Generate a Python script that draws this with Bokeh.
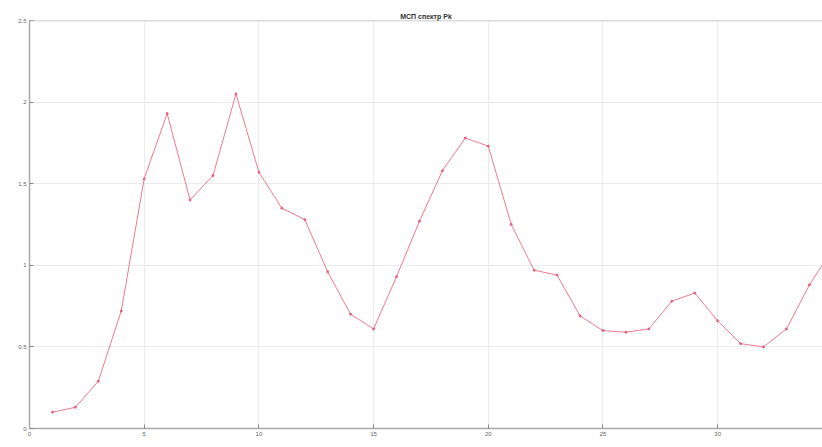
from bokeh.plotting import figure
from bokeh.models import Range1d, FixedTicker, Span
from bokeh.embed import file_html
from bokeh.resources import INLINE

title_text = "МСП спектр Pk"
x_vals = list(range(1, 36))
y_vals = [0.10, 0.13, 0.29, 0.72, 1.53, 1.93, 1.40, 1.55, 2.05, 1.57,
          1.35, 1.28, 0.96, 0.70, 0.61, 0.93, 1.27, 1.58, 1.78, 1.73,
          1.25, 0.97, 0.94, 0.69, 0.60, 0.59, 0.61, 0.78, 0.83, 0.66,
          0.52, 0.50, 0.61, 0.88, 1.10]
x_ticks = [0, 5, 10, 15, 20, 25, 30]
y_ticks = [0, 0.5, 1, 1.5, 2, 2.5]

p = figure(width=822, height=447, output_backend="svg", toolbar_location=None,
           x_range=Range1d(0, 34.57), y_range=Range1d(0, 2.5),
           min_border_left=29, min_border_right=0, min_border_bottom=19, min_border_top=20)
p.title.text = title_text
p.title.align = "center"
p.title.text_font_size = "7px"
p.title.text_font = "Liberation Sans"
p.title.text_color = "#333333"
p.title.offset = 0
p.title.standoff = 2

p.outline_line_color = None
p.background_fill_color = "white"
p.border_fill_color = "white"

for ax in (p.xaxis[0], p.yaxis[0]):
    ax.axis_line_color = "#a8a8a8"
    ax.axis_line_width = 1.5
    ax.major_tick_line_color = "#888888"
    ax.major_tick_in = 4
    ax.major_tick_out = 0
    ax.minor_tick_line_color = None
    ax.major_label_text_font_size = "6px"
    ax.major_label_text_color = "#666666"
    ax.major_label_text_font = "Liberation Sans"
    ax.major_label_standoff = 3

p.xaxis.ticker = FixedTicker(ticks=x_ticks)
p.yaxis.ticker = FixedTicker(ticks=y_ticks)

p.add_layout(Span(location=2.5, dimension="width", line_color="#b8b8b8", line_width=1.5))

p.xgrid.grid_line_color = "#ebebeb"
p.ygrid.grid_line_color = "#ebebeb"

p.line(x_vals, y_vals, line_color="#f07a90", line_width=1)
p.scatter(x_vals, y_vals, size=2, color="#e0607a")

open("out.html", "w").write(file_html(p, INLINE))
